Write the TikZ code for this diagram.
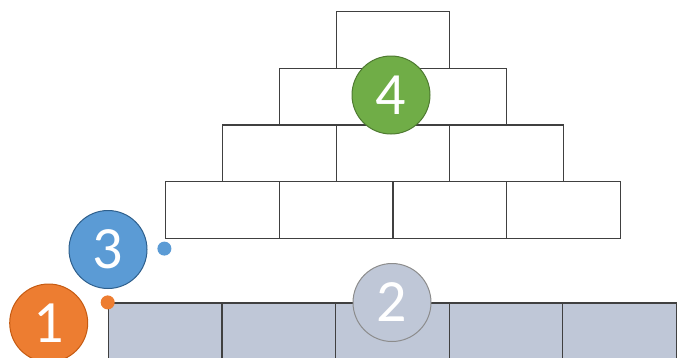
\documentclass[tikz,border=0pt]{standalone}
\usepackage{fontspec}
\setmainfont{Carlito}
\usetikzlibrary{positioning}
\tikzset{>=latex}
\definecolor{brickline}{HTML}{404040}
\definecolor{groundfill}{HTML}{BFC7D7}
\definecolor{orangeF}{HTML}{ED7D31}
\definecolor{orangeD}{HTML}{C55A11}
\definecolor{blueF}{HTML}{5B9BD5}
\definecolor{blueD}{HTML}{2E5F8C}
\definecolor{greenF}{HTML}{70AD47}
\definecolor{greenD}{HTML}{4E7A31}
\definecolor{grayD}{HTML}{8C8C8C}

\begin{document}
\begin{tikzpicture}[brick/.style={draw=brickline, line width=1.2pt, inner sep=0pt, minimum width=113.6pt, minimum height=56.8pt},
		ground/.style={brick, fill=groundfill},
		marker/.style={circle, inner sep=0pt, minimum size=78pt, line width=1pt, text=white, font=\fontsize{60}{60}\selectfont},
		dot/.style={circle, inner sep=0pt, minimum size=14pt},
		node distance=56.8pt and 113.6pt, on grid]
		\useasboundingbox (0,0) rectangle (683pt,-357pt);
		% pyramid
		\node[brick] (b1) at (392.9pt,-39.7pt) {};
		\node[brick] (b2) [below left=56.8pt and 56.8pt of b1] {};
		\node[brick] (b3) [right=of b2] {};
		\node[brick] (b4) [below left=56.8pt and 56.8pt of b2] {};
		\node[brick] (b5) [right=of b4] {};
		\node[brick] (b6) [right=of b5] {};
		\node[brick] (b7) [below left=56.8pt and 56.8pt of b4] {};
		\node[brick] (b8) [right=of b7] {};
		\node[brick] (b9) [right=of b8] {};
		\node[brick] (b10) [right=of b9] {};
		% ground row
		\node[ground] (g1) at (165.1pt,-331.4pt) {};
		\node[ground] (g2) [right=of g1] {};
		\node[ground] (g3) [right=of g2] {};
		\node[ground] (g4) [right=of g3] {};
		\node[ground] (g5) [right=of g4] {};
		% markers
		\node[dot, fill=blueF] (d3) at (b7.south west) [xshift=-0.7pt, yshift=-9.5pt] {};
		\node[dot, fill=orangeF] (d1) at (g1.north west) {};
		\node[marker, fill=blueF, draw=blueD] (m3) at (108pt,-249.5pt) {3};
		\node[marker, fill=orangeF, draw=orangeD] (m1) at (48.7pt,-323pt) {1};
		\node[marker, fill=groundfill, draw=grayD] (m2) at (392pt,-302.5pt) {2};
		\node[marker, fill=greenF, draw=greenD] (m4) at (391pt,-95pt) {4};
	\end{tikzpicture}
\end{document}
